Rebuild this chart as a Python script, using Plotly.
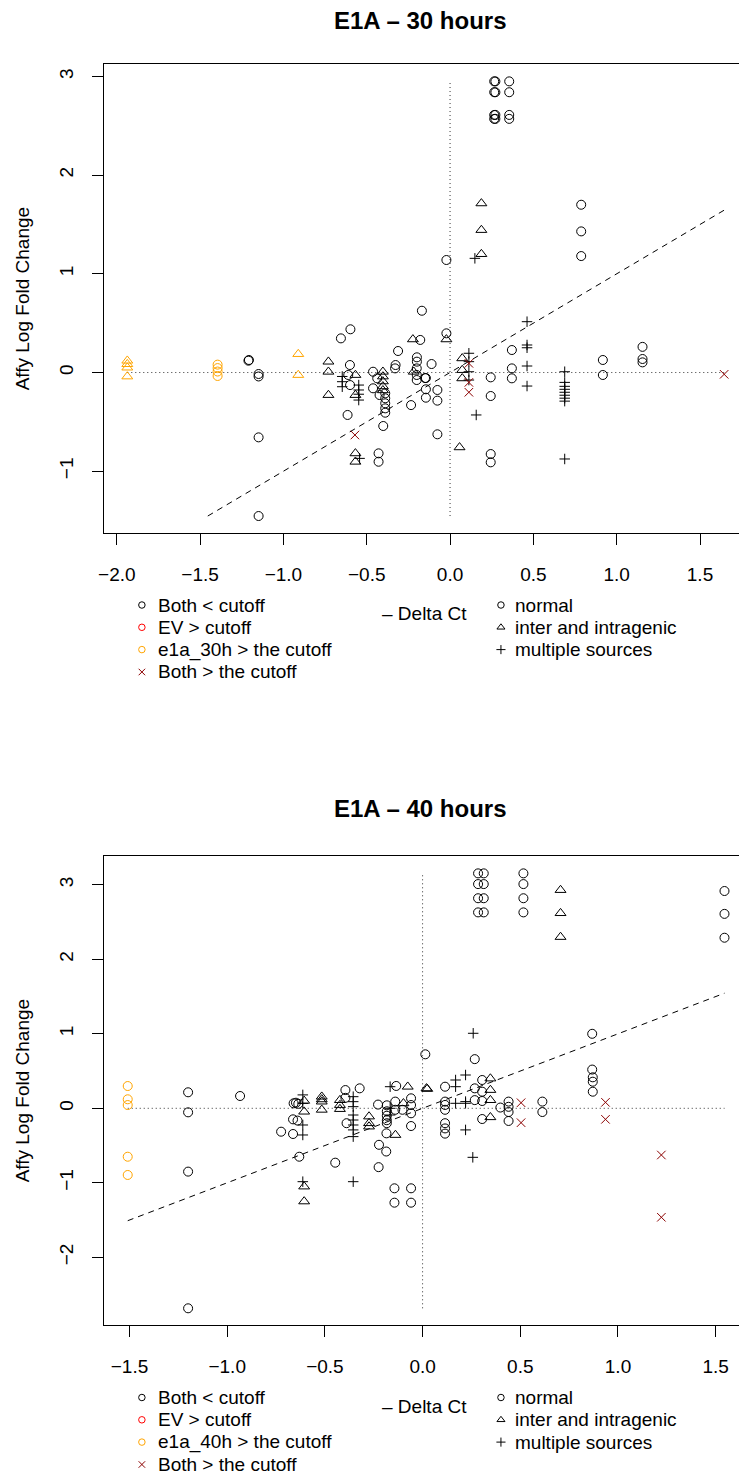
import plotly.graph_objects as go

W, H = 739, 1475

# ---------------- E1A - 30 hours ----------------
t30_normal_x = [0.265, 0.272, 0.265, 0.272, 0.265, 0.272, 0.265, 0.272,
                0.355, 0.355, 0.355, 0.355,
                0.787, 0.787, 0.787, -0.022, 0.917, 0.917, 1.155, 1.155, 1.155,
                0.371, 0.371, 0.371, 0.244, 0.244, 0.244, 0.244,
                -1.207, -1.21, -1.149, -1.149, -1.149, -1.149,
                -0.655, -0.598, -0.601, -0.611, -0.6, -0.615, -0.429, -0.429,
                -0.462, -0.462, -0.437, -0.423, -0.389, -0.389, -0.389, -0.389, -0.389,
                -0.401, -0.327, -0.33, -0.312, -0.199, -0.199, -0.2, -0.2, -0.2,
                -0.15, -0.145, -0.145, -0.145, -0.111, -0.076, -0.076, -0.234,
                -0.169, -0.179, -0.022, -0.076]
t30_normal_y = [2.95, 2.95, 2.84, 2.84, 2.61, 2.61, 2.57, 2.57,
                2.95, 2.84, 2.61, 2.57,
                1.70, 1.43, 1.18, 1.14, 0.127, -0.025, 0.26, 0.137, 0.103,
                0.228, 0.042, -0.059, -0.049, -0.238, -0.826, -0.91,
                0.127, 0.12, -0.015, -0.04, -0.657, -1.454,
                0.346, 0.438, 0.076, -0.025, -0.127, -0.43, -0.819, -0.904,
                0.008, -0.16, -0.059, -0.228, -0.211, -0.261, -0.312, -0.363, -0.407,
                -0.542, 0.076, 0.042, 0.218, 0.154, 0.11, 0.042, -0.025, -0.076,
                -0.056, -0.056, -0.17, -0.255, 0.086, -0.177, -0.285, -0.33,
                0.626, 0.33, 0.397, -0.626]
t30_inter_x = [0.188, 0.188, 0.188, -0.73, -0.73, -0.73, -0.568, -0.568, -0.568, -0.568,
               -0.403, -0.403, -0.403, -0.403, -0.403, -0.223, -0.022, -0.218,
               0.073, 0.073, 0.073, 0.057]
t30_inter_y = [1.714, 1.444, 1.20, 0.11, 0.008, -0.228, -0.025, -0.228, -0.819, -0.904,
               0.008, -0.04, -0.09, -0.14, -0.18, 0.336, 0.336, 0.008,
               0.144, 0.025, -0.059, -0.758]
t30_multi_x = [0.149, -0.647, -0.647, -0.647, -0.548, -0.548, -0.548, -0.548, -0.543,
               0.113, 0.113, 0.113, 0.113, 0.157,
               0.462, 0.462, 0.462, 0.462, 0.462,
               0.688, 0.688, 0.688, 0.688, 0.688, 0.688, 0.688, 0.688, 0.688]
t30_multi_y = [1.157, -0.04, -0.093, -0.144, -0.127, -0.177, -0.22, -0.279, -0.87,
               0.195, 0.11, 0.008, -0.076, -0.43,
               0.515, 0.279, 0.251, 0.066, -0.137,
               0.008, -0.1, -0.14, -0.17, -0.2, -0.23, -0.26, -0.29, -0.876]
t30_e1a_normal_x = [-1.395, -1.395, -1.395, -1.395]
t30_e1a_normal_y = [0.08, 0.045, 0.01, -0.035]
t30_e1a_inter_x = [-1.937, -1.937, -1.937, -1.937, -0.911, -0.911]
t30_e1a_inter_y = [0.12, 0.085, 0.05, -0.04, 0.187, -0.025]
t30_both_x = [-0.571, 0.113, 0.113, 0.113, 1.645]
t30_both_y = [-0.633, 0.093, -0.1, -0.2, -0.018]

# ---------------- E1A - 40 hours ----------------
t40_normal_x = [0.284, 0.313, 0.284, 0.313, 0.284, 0.313, 0.284, 0.313,
                0.516, 0.516, 0.516, 0.516, 1.545, 1.545, 1.545,
                0.868, 0.868, 0.871, 0.871, 0.871, 0.014, 0.267,
                -1.2, -1.2, -1.2, -1.2, -0.934, -0.724,
                -0.66, -0.648, -0.636, -0.663, -0.64, -0.663, -0.631, -0.447,
                -0.395, -0.395, -0.389, -0.322, -0.228,
                -0.183, -0.183, -0.183, -0.183, -0.183, -0.185, -0.223, -0.225, -0.186,
                -0.135, -0.14, -0.14, -0.103,
                -0.059, -0.059, -0.059, -0.059,
                -0.144, -0.144, -0.059, -0.059,
                0.115, 0.115, 0.115, 0.115, 0.115, 0.115, 0.115,
                0.267, 0.267, 0.305, 0.305, 0.305, 0.305, 0.398,
                0.44, 0.44, 0.44, 0.44, 0.613, 0.613]
t40_normal_y = [3.154, 3.154, 3.01, 3.01, 2.82, 2.82, 2.63, 2.63,
                3.154, 3.01, 2.82, 2.63, 2.917, 2.61, 2.29,
                1.0, 0.52, 0.416, 0.357, 0.223, 0.725, 0.66,
                0.215, -0.054, -0.85, -2.685, 0.165, -0.314,
                0.067, 0.075, 0.06, -0.148, -0.165, -0.345, -0.65, -0.73,
                0.245, 0.14, -0.2, 0.268, 0.05,
                0.04, -0.04, -0.1, -0.16, -0.2, -0.336, -0.49, -0.79, -0.58,
                0.3, 0.09, -0.02, -0.02,
                0.134, 0.044, -0.067, -0.238,
                -1.074, -1.267, -1.074, -1.267,
                0.29, 0.09, 0.045, -0.02, -0.2, -0.27, -0.34,
                0.268, 0.11, 0.38, 0.223, 0.098, -0.144, 0.01,
                0.09, 0.02, -0.05, -0.17, 0.09, -0.05]
t40_inter_x = [0.706, 0.706, 0.706, -0.606, -0.606, -0.606, -0.606,
               -0.516, -0.516, -0.516, -0.516, -0.423, -0.423, -0.423,
               -0.274, -0.274, -0.274, -0.139, -0.076, -0.098, 0.02, 0.024,
               0.347, 0.347, 0.347, 0.347]
t40_inter_y = [2.93, 2.62, 2.30, 0.1, -0.045, -1.05, -1.25,
               0.156, 0.12, 0.09, -0.02, 0.11, 0.044, -0.01,
               -0.11, -0.2, -0.245, -0.358, 0.29, 0.067, 0.268, 0.26,
               0.4, 0.246, 0.11, -0.12]
t40_multi_x = [0.259, -0.613, -0.613, -0.613, -0.613, -0.613,
               -0.355, -0.355, -0.355, -0.355, -0.355, -0.355, -0.355, -0.355, -0.355,
               -0.166, -0.166, -0.166, 0.169, 0.169, 0.169,
               0.22, 0.22, 0.22, 0.22, 0.257]
t40_multi_y = [1.007, 0.18, 0.067, -0.224, -0.358, -0.985,
               0.156, 0.089, 0.022, -0.09, -0.157, -0.224, -0.29, -0.38, -0.985,
               0.29, 0.0, -0.09, 0.38, 0.29, 0.067,
               0.447, 0.09, 0.067, -0.29, -0.658]
t40_e1a_normal_x = [-1.509, -1.509, -1.509, -1.509, -1.509]
t40_e1a_normal_y = [0.299, 0.121, 0.044, -0.65, -0.895]
t40_both_x = [0.504, 0.504, 0.936, 0.936, 1.222, 1.222]
t40_both_y = [0.075, -0.193, 0.08, -0.148, -0.627, -1.463]

col_legend = ["Both < cutoff", "EV > cutoff", None, "Both > the cutoff"]
shape_legend = ["normal", "inter and intragenic", "multiple sources"]

BLACK = "#000000"
ORANGE = "#FFA500"
RED = "#FF0000"
DARKRED = "#8B0000"
FONT = "Liberation Sans, Arial, sans-serif"

fig = go.Figure()


def pts(xs, ys, xa, ya, symbol, color, size):
    fig.add_trace(go.Scatter(
        x=xs, y=ys, xaxis=xa, yaxis=ya, mode="markers",
        marker=dict(symbol=symbol, size=size, color=color,
                    line=dict(color=color, width=1)),
        showlegend=False, hoverinfo="skip"))


def ref_lines(allx, ally, xa, ya):
    # dotted zero lines spanning the data range
    fig.add_trace(go.Scatter(x=[min(allx), max(allx)], y=[0, 0], xaxis=xa, yaxis=ya,
                             mode="lines", line=dict(color="#333333", width=1, dash="1px,3px"),
                             showlegend=False, hoverinfo="skip"))
    fig.add_trace(go.Scatter(x=[0, 0], y=[min(ally), max(ally)], xaxis=xa, yaxis=ya,
                             mode="lines", line=dict(color="#333333", width=1, dash="1px,3px"),
                             showlegend=False, hoverinfo="skip"))
    lo = max(min(allx), min(ally))
    hi = min(max(allx), max(ally))
    fig.add_trace(go.Scatter(x=[lo, hi], y=[lo, hi], xaxis=xa, yaxis=ya,
                             mode="lines", line=dict(color=BLACK, width=1, dash="6px,5px"),
                             showlegend=False, hoverinfo="skip"))


SZ_C, SZ_T, SZ_P, SZ_X = 9, 9.5, 7.5, 8.5

# top plot
allx30 = t30_normal_x + t30_inter_x + t30_multi_x + t30_e1a_normal_x + t30_e1a_inter_x + t30_both_x
ally30 = t30_normal_y + t30_inter_y + t30_multi_y + t30_e1a_normal_y + t30_e1a_inter_y + t30_both_y
ref_lines(allx30, ally30, "x", "y")
pts(t30_normal_x, t30_normal_y, "x", "y", "circle-open", BLACK, SZ_C)
pts(t30_inter_x, t30_inter_y, "x", "y", "triangle-up-open", BLACK, SZ_T)
pts(t30_multi_x, t30_multi_y, "x", "y", "cross-thin-open", BLACK, SZ_P)
pts(t30_e1a_normal_x, t30_e1a_normal_y, "x", "y", "circle-open", ORANGE, SZ_C)
pts(t30_e1a_inter_x, t30_e1a_inter_y, "x", "y", "triangle-up-open", ORANGE, SZ_T)
pts(t30_both_x, t30_both_y, "x", "y", "x-thin-open", DARKRED, SZ_X)

# bottom plot
allx40 = t40_normal_x + t40_inter_x + t40_multi_x + t40_e1a_normal_x + t40_both_x
ally40 = t40_normal_y + t40_inter_y + t40_multi_y + t40_e1a_normal_y + t40_both_y
ref_lines(allx40, ally40, "x2", "y2")
pts(t40_normal_x, t40_normal_y, "x2", "y2", "circle-open", BLACK, SZ_C)
pts(t40_inter_x, t40_inter_y, "x2", "y2", "triangle-up-open", BLACK, SZ_T)
pts(t40_multi_x, t40_multi_y, "x2", "y2", "cross-thin-open", BLACK, SZ_P)
pts(t40_e1a_normal_x, t40_e1a_normal_y, "x2", "y2", "circle-open", ORANGE, SZ_C)
pts(t40_both_x, t40_both_y, "x2", "y2", "x-thin-open", DARKRED, SZ_X)

# ---- legends (overlay pixel axis x3/y3) ----
annotations = []


def px_text(x, y, text, size=19, anchor="left", bold=False, angle=0):
    annotations.append(dict(
        x=x / W, y=1 - y / H, xref="paper", yref="paper", text=("<b>%s</b>" % text) if bold else text,
        showarrow=False, xanchor=anchor, yanchor="middle", textangle=angle,
        borderpad=0, font=dict(family=FONT, size=size, color=BLACK)))


def legend_block(top, title_e1a):
    rows = [top, top + 22.3, top + 44.6, top + 67]
    labels = [col_legend[0], col_legend[1], title_e1a, col_legend[3]]
    cols = [BLACK, RED, ORANGE, DARKRED]
    syms = ["circle-open", "circle-open", "circle-open", "x-thin-open"]
    for r, lab, c, s in zip(rows, labels, cols, syms):
        fig.add_trace(go.Scatter(x=[137], y=[r], xaxis="x3", yaxis="y3", mode="markers",
                                 marker=dict(symbol=s, size=6.5, color=c, line=dict(color=c, width=1)),
                                 showlegend=False, hoverinfo="skip", cliponaxis=False))
        px_text(152, r, lab)
    syms2 = ["circle-open", "triangle-up-open", "cross-thin-open"]
    sz2 = [6.5, 7, 6.5]
    for r, lab, s, z in zip(rows[:3], shape_legend, syms2, sz2):
        fig.add_trace(go.Scatter(x=[499], y=[r], xaxis="x3", yaxis="y3", mode="markers",
                                 marker=dict(symbol=s, size=z, color=BLACK, line=dict(color=BLACK, width=1)),
                                 showlegend=False, hoverinfo="skip", cliponaxis=False))
        px_text(512, r, lab)
    px_text(422, top + 8.5, "\u2013 Delta Ct", anchor="center")


legend_block(605, "e1a_30h > the cutoff")
legend_block(1397.5, "e1a_40h > the cutoff")

# titles and y-axis labels
px_text(418, 20, "E1A \u2013 30 hours", size=24, anchor="center", bold=True)
px_text(418, 808, "E1A \u2013 40 hours", size=24, anchor="center", bold=True)
px_text(17, 298.5, "Affy Log Fold Change", anchor="center", angle=-90)
px_text(17, 1090.5, "Affy Log Fold Change", anchor="center", angle=-90)

axis_common = dict(showgrid=False, zeroline=False, showline=True, linecolor=BLACK, linewidth=1,
                   ticks="outside", ticklen=11, tickwidth=1, tickcolor=BLACK,
                   tickfont=dict(family=FONT, size=19, color=BLACK))

xl = 99 / W
fig.update_layout(
    width=W, height=H, margin=dict(l=0, r=0, t=0, b=0),
    paper_bgcolor="white", plot_bgcolor="rgba(0,0,0,0)",
    xaxis=dict(domain=[xl, 1], range=[-2.0756, 1.734], anchor="y", mirror=True,
               tickmode="linear", tick0=-2, dtick=0.5, tickformat=".1f", ticklabelstandoff=13,
               **axis_common),
    yaxis=dict(domain=[1 - 533 / H, 1 - 64 / H], range=[-1.626, 3.126], anchor="x",
               tickmode="linear", tick0=0, dtick=1, tickangle=-90, ticklabelstandoff=12,
               **axis_common),
    xaxis2=dict(domain=[xl, 1], range=[-1.6294, 1.6193], anchor="y2", mirror=True,
                tickmode="linear", tick0=-1.5, dtick=0.5, tickformat=".1f", ticklabelstandoff=13,
                **axis_common),
    yaxis2=dict(domain=[1 - 1325 / H, 1 - 856 / H], range=[-2.909, 3.387], anchor="x2",
                tickmode="linear", tick0=0, dtick=1, tickangle=-90, ticklabelstandoff=12,
                **axis_common),
    xaxis3=dict(domain=[0, 1], range=[0, W], visible=False, anchor="y3", fixedrange=True),
    yaxis3=dict(domain=[0, 1], range=[H, 0], visible=False, anchor="x3", fixedrange=True),
    annotations=annotations,
)

fig.write_html("out.html")
